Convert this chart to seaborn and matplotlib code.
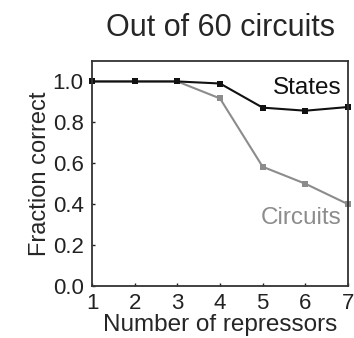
import matplotlib
matplotlib.use("Agg")
import matplotlib.pyplot as plt
import seaborn as sns
import pandas as pd

repressors = [1, 2, 3, 4, 5, 6, 7]
states_correct = [1.0, 1.0, 1.0, 0.99, 0.872, 0.857, 0.875]
circuits_correct = [1.0, 1.0, 1.0, 0.917, 0.583, 0.5, 0.4]
x_ticks = [1, 2, 3, 4, 5, 6, 7]
y_ticks = [0.0, 0.2, 0.4, 0.6, 0.8, 1.0]

sns.set_style("ticks")
plt.rcParams["font.family"] = ["Liberation Sans", "DejaVu Sans"]

df = pd.DataFrame({
    "n": repressors * 2,
    "frac": circuits_correct + states_correct,
    "kind": ["Circuits"] * len(repressors) + ["States"] * len(repressors),
})

fig = plt.figure(figsize=(3.54, 3.38), dpi=100)
ax = fig.add_axes([92 / 354, 1 - 286 / 338, 256 / 354, 225 / 338])

palette = {"Circuits": "#8c8c8c", "States": "#111111"}
sns.lineplot(data=df, x="n", y="frac", hue="kind", palette=palette,
             marker="s", markersize=4.5, markeredgewidth=0, linewidth=1.5,
             legend=False, ax=ax, clip_on=False)

ax.set_xlim(1, 7)
ax.set_ylim(0, 1.1)
ax.set_xticks(x_ticks)
ax.set_yticks(y_ticks)
ax.set_yticklabels([f"{v:.1f}" for v in y_ticks])
ax.tick_params(direction="in", length=2, width=1, labelsize=16,
               colors="#222222")
ax.tick_params(axis="x", pad=5)
ax.tick_params(axis="y", pad=6)
for s in ax.spines.values():
    s.set_color("#333333")
    s.set_linewidth(1.3)

ax.set_xlabel("Number of repressors", fontsize=17.5, labelpad=0)
ax.set_ylabel("Fraction correct", fontsize=17, labelpad=1)
ax.set_title("Out of 60 circuits", fontsize=22, pad=18)

ax.text(6.85, 0.97, "States", fontsize=17.5, color="#111111",
        ha="right", va="center")
ax.text(6.85, 0.33, "Circuits", fontsize=17.5, color="#8c8c8c",
        ha="right", va="center")

fig.savefig("out.png", dpi=100)
